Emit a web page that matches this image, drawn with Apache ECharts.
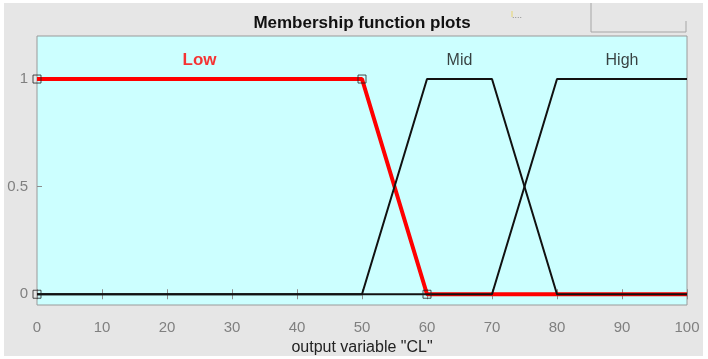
<!DOCTYPE html>
<html>
<head>
<meta charset="utf-8">
<style>html,body{margin:0;padding:0;background:#fff}#c{width:708px;height:359px}</style>
<script src="https://cdn.jsdelivr.net/npm/echarts@6/dist/echarts.min.js"></script>
</head>
<body>
<div id="c"></div>
<script>
// Data
const xTicks = [0,10,20,30,40,50,60,70,80,90,100];
const yTicks = [0, 0.5, 1];
const lowX = [0, 50, 60, 100];
const lowY = [1, 1, 0, 0];
const midX = [0, 50, 60, 70, 80, 100];
const midY = [0, 0, 1, 1, 0, 0];
const highX = [0, 70, 80, 100];
const highY = [0, 0, 1, 1];
const markerX = [0, 0, 50, 60];
const markerY = [0, 1, 1, 0];
const mfNames = ['Low', 'Mid', 'High'];
const mfLabelX = [25, 65, 90];
const mfLabelY = [1.085, 1.085, 1.085];
const titleText = 'Membership function plots';
const xAxisName = 'output variable "CL"';

const zip = (xs, ys) => xs.map((x, i) => [x, ys[i]]);
const chart = echarts.init(document.getElementById('c'), null, {renderer: 'canvas'});
const font = '"Liberation Sans", Arial, sans-serif';
const tickCommon = {show: true, inside: true, length: 5, lineStyle: {color: '#8c8c8c', width: 1}};

const lblData = mfNames.map((n, i) => ({
  name: n, value: [mfLabelX[i], mfLabelY[i]],
  label: i === 0 ? {color: '#ff0000', fontWeight: 'bold', fontSize: 17} : {color: '#111', fontSize: 16}
}));

chart.setOption({
  backgroundColor: '#ffffff',
  animation: false,
  graphic: [
    {type: 'rect', shape: {x: 4, y: 3, width: 699, height: 353}, style: {fill: '#e6e6e6'}, z: -10, silent: true},
    {type: 'polyline', shape: {points: [[591, 3], [591, 32], [686, 32], [686, 21]]}, style: {stroke: '#a6a6a6', lineWidth: 1, fill: null}, z: 1},
    {type: 'text', x: 512, y: 16, style: {text: '....', fill: '#8a8a8a', font: '9px ' + font, textVerticalAlign: 'middle'}},
    {type: 'line', shape: {x1: 512, y1: 11, x2: 512, y2: 17}, style: {stroke: '#e8d870', lineWidth: 1}},
    {type: 'text', x: 362, y: 23, style: {text: titleText, fill: '#111', font: 'bold 17px ' + font, textAlign: 'center', textVerticalAlign: 'middle'}},
    {type: 'text', x: 362, y: 348, style: {text: xAxisName, fill: '#222', font: '16px ' + font, textAlign: 'center', textVerticalAlign: 'middle'}}
  ],
  grid: {left: 37, right: 21, top: 36, bottom: 54, show: true, backgroundColor: '#ccffff', borderColor: '#9a9a9a', borderWidth: 1, containLabel: false, outerBoundsMode: 'none'},
  xAxis: [
    {type: 'value', min: 0, max: 100, interval: 10, position: 'bottom',
     axisLine: {show: false}, splitLine: {show: false},
     axisTick: tickCommon,
     axisLabel: {color: '#808080', fontSize: 15, fontFamily: font, margin: 15, formatter: v => xTicks.includes(v) ? String(v) : ''}},
    {type: 'value', min: 0, max: 100, interval: 10, position: 'top',
     axisLine: {show: false}, splitLine: {show: false},
     axisTick: tickCommon, axisLabel: {show: false}}
  ],
  yAxis: [
    {type: 'value', min: -0.05, max: 1.2, position: 'left',
     axisLine: {show: false}, splitLine: {show: false},
     axisTick: Object.assign({customValues: yTicks}, tickCommon),
     axisLabel: {customValues: yTicks, color: '#808080', fontSize: 15, fontFamily: font, margin: 9, formatter: v => String(v)}},
    {type: 'value', min: -0.05, max: 1.2, position: 'right',
     axisLine: {show: false}, splitLine: {show: false},
     axisTick: {show: false},
     axisLabel: {show: false}}
  ],
  series: [
    {type: 'line', name: 'Low', data: zip(lowX, lowY), symbol: 'none',
     lineStyle: {color: '#ff0000', width: 4}, z: 2},
    {type: 'line', name: 'Mid', data: zip(midX, midY), symbol: 'none',
     lineStyle: {color: '#111111', width: 2}, z: 3},
    {type: 'line', name: 'High', data: zip(highX, highY), symbol: 'none',
     lineStyle: {color: '#111111', width: 2}, z: 3},
    {type: 'scatter', data: zip(markerX, markerY), symbol: 'rect', symbolSize: 8, clip: false,
     itemStyle: {color: 'rgba(0,0,0,0)', borderColor: '#222', borderWidth: 1}, z: 4},
    {type: 'scatter', symbolSize: 0, z: 5, data: lblData,
     label: {show: true, position: 'inside', formatter: p => p.name, fontSize: 16, fontFamily: font, color: '#111'}}
  ]
});
</script>
</body>
</html>
